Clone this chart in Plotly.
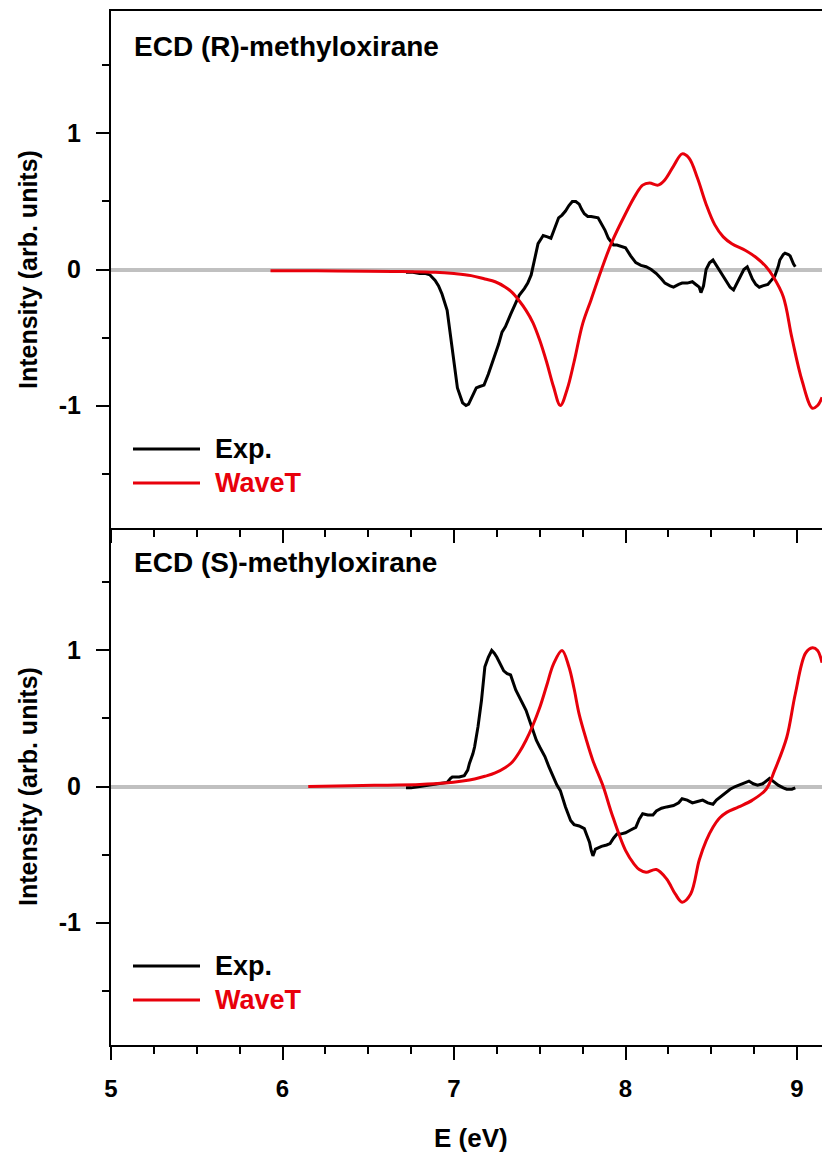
import plotly.graph_objects as go

# ---------------- data ----------------
# Top panel: (R)-methyloxirane
exp_r_e = [6.72, 6.76, 6.80, 6.835, 6.86, 6.89, 6.91, 6.93, 6.96, 6.98, 7.00, 7.02, 7.05, 7.07, 7.085,
           7.10, 7.12, 7.13, 7.15, 7.175, 7.20, 7.22, 7.24, 7.26, 7.28, 7.30, 7.33, 7.36, 7.38, 7.41,
           7.43, 7.45, 7.46, 7.475, 7.49, 7.51, 7.52, 7.545, 7.565, 7.58, 7.60, 7.61, 7.63, 7.65, 7.67,
           7.69, 7.71, 7.73, 7.745, 7.76, 7.78, 7.80, 7.84, 7.86, 7.88, 7.90, 7.93, 7.95, 7.98, 8.00,
           8.03, 8.06, 8.09, 8.12, 8.15, 8.18, 8.21, 8.23, 8.26, 8.28, 8.31, 8.33, 8.36, 8.39, 8.41,
           8.43, 8.44, 8.455, 8.47, 8.49, 8.51, 8.53, 8.54, 8.57, 8.59, 8.61, 8.63, 8.65, 8.67, 8.69,
           8.71, 8.725, 8.74, 8.76, 8.78, 8.80, 8.83, 8.85, 8.87, 8.89, 8.90, 8.92, 8.93, 8.95, 8.96,
           8.98, 8.99]
exp_r_i = [-0.02, -0.02, -0.03, -0.03, -0.04, -0.08, -0.12, -0.18, -0.30, -0.50, -0.69, -0.87, -0.98, -1.0, -0.99,
           -0.95, -0.89, -0.87, -0.86, -0.85, -0.77, -0.70, -0.62, -0.55, -0.46, -0.42, -0.33, -0.25, -0.19, -0.14,
           -0.10, -0.04, 0.02, 0.12, 0.19, 0.23, 0.25, 0.24, 0.23, 0.28, 0.35, 0.38, 0.40, 0.43, 0.47,
           0.50, 0.50, 0.48, 0.44, 0.41, 0.39, 0.39, 0.38, 0.34, 0.29, 0.23, 0.18, 0.18, 0.17, 0.16,
           0.10, 0.05, 0.03, 0.02, 0.00, -0.03, -0.07, -0.10, -0.12, -0.13, -0.11, -0.10, -0.10, -0.09, -0.11,
           -0.13, -0.17, -0.12, 0.0, 0.05, 0.07, 0.03, 0.0, -0.06, -0.10, -0.13, -0.15, -0.10, -0.04, 0.0,
           0.02, -0.02, -0.07, -0.11, -0.13, -0.12, -0.11, -0.08, -0.05, 0.02, 0.07, 0.11, 0.12, 0.11, 0.10,
           0.04, 0.02]

wt_r_e = [5.93, 6.2, 6.5, 6.7, 6.89, 7.0, 7.10, 7.18, 7.24, 7.30, 7.34, 7.38, 7.42, 7.46, 7.50, 7.54, 7.58,
          7.62, 7.66, 7.70, 7.75, 7.80, 7.86, 7.92, 8.0, 8.06, 8.10, 8.14, 8.19, 8.23, 8.28, 8.33, 8.37,
          8.42, 8.47, 8.52, 8.57, 8.62, 8.70, 8.76, 8.82, 8.86, 8.92, 8.97, 9.03, 9.09, 9.12, 9.146]
wt_r_i = [-0.01, -0.01, -0.012, -0.015, -0.02, -0.03, -0.045, -0.07, -0.09, -0.13, -0.17, -0.23, -0.30, -0.39, -0.52, -0.68, -0.86,
          -1.0, -0.88, -0.68, -0.40, -0.22, 0.0, 0.20, 0.41, 0.55, 0.62, 0.635, 0.62, 0.66, 0.76, 0.85, 0.82,
          0.67, 0.48, 0.33, 0.24, 0.19, 0.14, 0.09, 0.02, -0.05, -0.20, -0.50, -0.82, -1.02, -1.0, -0.94]

# Bottom panel: (S)-methyloxirane
exp_s_e = [6.72, 6.75, 6.80, 6.85, 6.91, 6.96, 6.98, 6.99, 7.03, 7.06, 7.08, 7.09, 7.11, 7.12, 7.14,
           7.16, 7.18, 7.20, 7.22, 7.235, 7.25, 7.27, 7.29, 7.31, 7.33, 7.36, 7.39, 7.42, 7.45, 7.48,
           7.50, 7.53, 7.555, 7.58, 7.60, 7.62, 7.635, 7.65, 7.68, 7.70, 7.73, 7.76, 7.775, 7.79, 7.80,
           7.81, 7.825, 7.84, 7.86, 7.89, 7.91, 7.93, 7.95, 7.97, 8.00, 8.03, 8.06, 8.08, 8.10, 8.13,
           8.16, 8.18, 8.21, 8.24, 8.28, 8.31, 8.33, 8.36, 8.39, 8.42, 8.45, 8.48, 8.51, 8.53, 8.55,
           8.58, 8.61, 8.64, 8.66, 8.69, 8.72, 8.745, 8.77, 8.80, 8.84, 8.86, 8.89, 8.92, 8.94, 8.97,
           8.99]
exp_s_i = [-0.01, -0.01, 0.0, 0.01, 0.02, 0.03, 0.06, 0.07, 0.07, 0.08, 0.12, 0.17, 0.24, 0.29, 0.44,
           0.63, 0.88, 0.95, 1.0, 0.98, 0.95, 0.90, 0.85, 0.83, 0.82, 0.71, 0.64, 0.56, 0.45, 0.34,
           0.29, 0.22, 0.14, 0.07, 0.01, -0.03, -0.09, -0.15, -0.25, -0.28, -0.29, -0.31, -0.36, -0.41, -0.47,
           -0.51, -0.46, -0.45, -0.44, -0.43, -0.42, -0.38, -0.35, -0.35, -0.34, -0.32, -0.30, -0.24, -0.20, -0.21,
           -0.21, -0.18, -0.16, -0.15, -0.14, -0.12, -0.09, -0.10, -0.12, -0.11, -0.10, -0.12, -0.13, -0.10, -0.08,
           -0.05, -0.02, 0.0, 0.01, 0.03, 0.04, 0.02, 0.01, 0.02, 0.06, 0.04, 0.01, -0.01, -0.02, -0.02,
           -0.01]

wt_s_e = [6.15, 6.4, 6.6, 6.8, 6.95, 7.05, 7.12, 7.18, 7.24, 7.30, 7.34, 7.38, 7.42, 7.46, 7.50, 7.54,
          7.58, 7.63, 7.67, 7.70, 7.73, 7.77, 7.81, 7.87, 7.92, 8.0, 8.05, 8.08, 8.12, 8.18, 8.24, 8.29, 8.33,
          8.38, 8.43, 8.47, 8.51, 8.55, 8.59, 8.66, 8.74, 8.82, 8.87, 8.94, 8.99, 9.05, 9.09, 9.12, 9.146]
wt_s_i = [0.0, 0.005, 0.01, 0.015, 0.025, 0.04, 0.055, 0.075, 0.10, 0.14, 0.18, 0.25, 0.34, 0.45, 0.58, 0.74,
          0.90, 1.0, 0.88, 0.72, 0.53, 0.35, 0.19, 0.0, -0.20, -0.47, -0.57, -0.61, -0.63, -0.61, -0.68, -0.79, -0.85,
          -0.79, -0.54, -0.40, -0.30, -0.23, -0.19, -0.15, -0.10, -0.02, 0.12, 0.36, 0.68, 0.98, 1.02, 1.0, 0.91]

panel_titles = ["ECD (R)-methyloxirane", "ECD (S)-methyloxirane"]
legend_names = ["Exp.", "WaveT"]
x_ticks = [5, 6, 7, 8, 9]
y_ticks = [-1, 0, 1]

# ---------------- figure ----------------
W, H = 822, 1155
ML, MR, MT, MB = 111, 0, 11, 110
PW, PH = W - ML - MR, H - MT - MB

FONT = "Liberation Sans, Arial, sans-serif"
BLACK = "#000000"
RED = "#e8000b"

fig = go.Figure()

fig.add_trace(go.Scatter(x=exp_r_e, y=exp_r_i, mode="lines", name=legend_names[0],
                         line=dict(color=BLACK, width=3), xaxis="x", yaxis="y", showlegend=False))
fig.add_trace(go.Scatter(x=wt_r_e, y=wt_r_i, mode="lines", name=legend_names[1],
                         line=dict(color=RED, width=3, shape="spline", smoothing=1.0),
                         xaxis="x", yaxis="y", showlegend=False))
fig.add_trace(go.Scatter(x=exp_s_e, y=exp_s_i, mode="lines", name=legend_names[0],
                         line=dict(color=BLACK, width=3), xaxis="x2", yaxis="y2", showlegend=False))
fig.add_trace(go.Scatter(x=wt_s_e, y=wt_s_i, mode="lines", name=legend_names[1],
                         line=dict(color=RED, width=3, shape="spline", smoothing=1.0),
                         xaxis="x2", yaxis="y2", showlegend=False))

xr = [5, 5 + PW / 171.5]
tickfont = dict(family=FONT, size=24, color=BLACK, weight="bold")

common_x = dict(range=xr, showline=True, linecolor=BLACK, linewidth=2, showgrid=False, zeroline=False,
                ticks="outside", ticklen=13, tickwidth=1.5, tickcolor=BLACK, tickvals=x_ticks,
                minor=dict(dtick=0.25, ticks="outside", ticklen=7, tickwidth=1.5, tickcolor=BLACK),
                tickfont=tickfont)
common_y = dict(range=[-1.9, 1.9], showline=True, linecolor=BLACK, linewidth=2, showgrid=False,
                zeroline=True, zerolinecolor="#c0c0c0", zerolinewidth=4,
                ticks="outside", ticklen=13, tickwidth=1.5, tickcolor=BLACK, tickvals=y_ticks,
                ticktext=[str(v) for v in y_ticks],
                minor=dict(dtick=0.5, ticks="outside", ticklen=7, tickwidth=1.5, tickcolor=BLACK),
                tickfont=dict(family=FONT, size=25, color=BLACK, weight="bold"), ticklabelstandoff=10)

fig.update_layout(
    width=W, height=H, margin=dict(l=ML, r=MR, t=MT, b=MB),
    paper_bgcolor="white", plot_bgcolor="white", showlegend=False,
    xaxis=dict(common_x, domain=[0, 1], anchor="y", mirror=True, showticklabels=False),
    yaxis=dict(common_y, domain=[0.5, 1], anchor="x"),
    xaxis2=dict(common_x, domain=[0, 1], anchor="y2", matches="x", ticklabelstandoff=8),
    yaxis2=dict(common_y, domain=[0, 0.5], anchor="x2"),
)


def px(xp):
    return (xp - ML) / PW


def py(yp):
    return (H - MB - yp) / PH


annotations = []
shapes = []
for k, off in enumerate([0, 517]):
    annotations.append(dict(text=panel_titles[k], x=px(132), y=py(46 + off), xref="paper", yref="paper",
                            xanchor="left", yanchor="middle", showarrow=False,
                            font=dict(family=FONT, size=28, color=BLACK, weight="bold")))
    annotations.append(dict(text="Intensity (arb. units)", x=px(28), y=py(270 + off), xref="paper",
                            yref="paper", textangle=-90, xanchor="center", yanchor="middle",
                            showarrow=False, font=dict(family=FONT, size=25, color=BLACK, weight="bold")))
    for j, (name, col) in enumerate(zip(legend_names, [BLACK, RED])):
        yy = 449 + off + 34 * j
        shapes.append(dict(type="line", xref="paper", yref="paper", x0=px(133), x1=px(200),
                           y0=py(yy), y1=py(yy), line=dict(color=col, width=3)))
        annotations.append(dict(text=name, x=px(213), y=py(yy), xref="paper", yref="paper",
                                xanchor="left", yanchor="middle", showarrow=False,
                                font=dict(family=FONT, size=27, color=col, weight="bold")))

annotations.append(dict(text="E (eV)", x=px(471), y=py(1138), xref="paper", yref="paper",
                        xanchor="center", yanchor="middle", showarrow=False,
                        font=dict(family=FONT, size=26, color=BLACK, weight="bold")))

fig.update_layout(annotations=annotations, shapes=shapes)

fig.write_html("out.html")
